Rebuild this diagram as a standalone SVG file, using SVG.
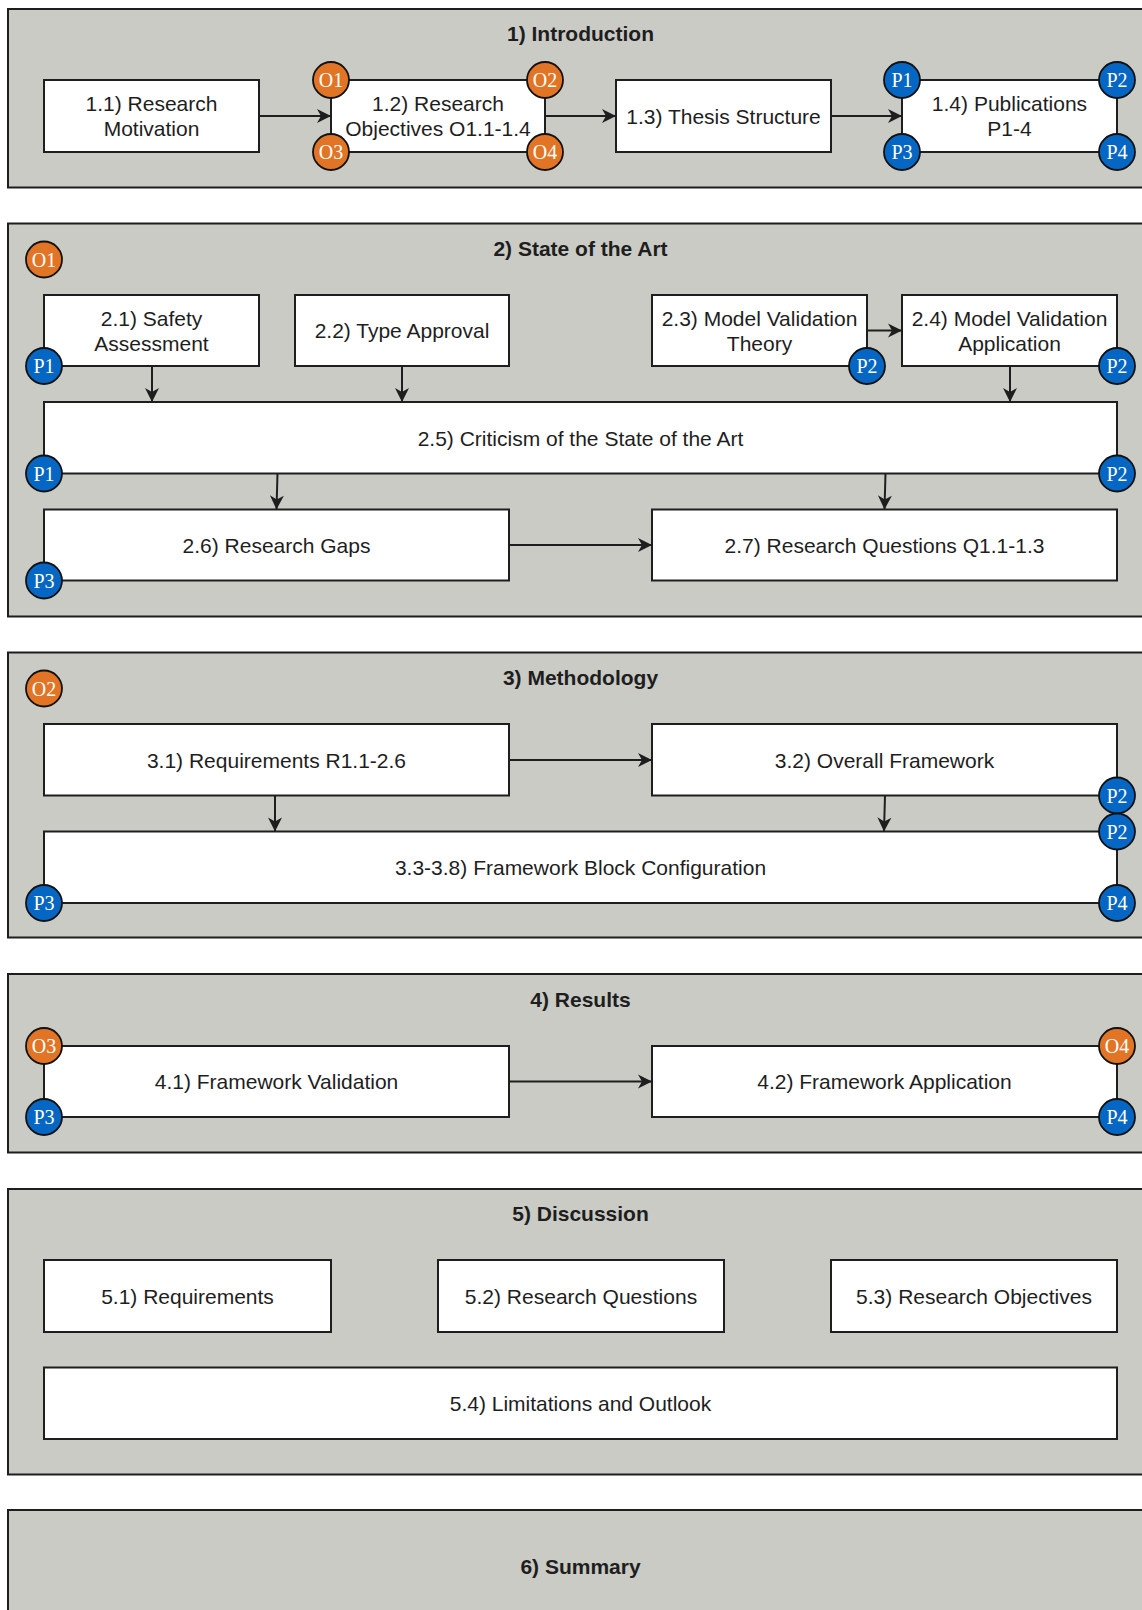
<svg xmlns="http://www.w3.org/2000/svg" width="1142" height="1610" viewBox="0 0 1142 1610">
  <defs>
    <marker id="arrow" markerUnits="userSpaceOnUse" markerWidth="16" markerHeight="16" viewBox="-15 -8 16 16" refX="0" refY="0" orient="auto">
      <path d="M0,0 L-14,-7 L-10,0 L-14,7 Z" fill="#1e1e1e"/>
    </marker>
  </defs>
  <style>
    .sec { fill: #cacbc5; stroke: #1e1e1e; stroke-width: 2; }
    .box { fill: #ffffff; stroke: #1e1e1e; stroke-width: 2; }
    .title { font-family: "Liberation Sans", Arial, sans-serif; font-weight: bold; font-size: 21px; fill: #1e1e1e; text-anchor: middle; dominant-baseline: central; }
    .lbl { font-family: "Liberation Sans", Arial, sans-serif; font-size: 21px; fill: #1e1e1e; text-anchor: middle; dominant-baseline: central; }
    .edge { fill: none; stroke: #1e1e1e; stroke-width: 2; marker-end: url(#arrow); }
    .o circle { fill: #e27425; stroke: #111; stroke-width: 1.8; }
    .p circle { fill: #0566c3; stroke: #111; stroke-width: 1.8; }
    .badge text { font-family: "Liberation Serif", "Times New Roman", serif; font-size: 20px; fill: #ffffff; text-anchor: middle; dominant-baseline: central; }
  </style>

  <!-- chapter panels -->
  <g id="chapters">
    <g id="ch1"><rect class="sec" x="8" y="9" width="1145" height="178.5"/><text class="title" x="580.5" y="33">1) Introduction</text></g>
    <g id="ch2"><rect class="sec" x="8" y="223.5" width="1145" height="393"/><text class="title" x="580.5" y="248">2) State of the Art</text></g>
    <g id="ch3"><rect class="sec" x="8" y="652.5" width="1145" height="285"/><text class="title" x="580.5" y="677">3) Methodology</text></g>
    <g id="ch4"><rect class="sec" x="8" y="974" width="1145" height="178.5"/><text class="title" x="580.5" y="999.5">4) Results</text></g>
    <g id="ch5"><rect class="sec" x="8" y="1189" width="1145" height="285.5"/><text class="title" x="580.5" y="1213">5) Discussion</text></g>
    <g id="ch6"><rect class="sec" x="8" y="1510" width="1145" height="150"/><text class="title" x="580.5" y="1566">6) Summary</text></g>
  </g>

  <!-- connectors -->
  <g id="connectors">
    <path class="edge" d="M259,116 H331"/>
    <path class="edge" d="M545,116 H616"/>
    <path class="edge" d="M831,116 H902"/>
    <path class="edge" d="M152,366 V402"/>
    <path class="edge" d="M402,366 V402"/>
    <path class="edge" d="M867,330.5 H902"/>
    <path class="edge" d="M1010,366 V402"/>
    <path class="edge" d="M277.5,473.5 L276.5,509.5"/>
    <path class="edge" d="M885.5,473.5 L884.5,509.5"/>
    <path class="edge" d="M509,545 H652"/>
    <path class="edge" d="M509,760 H652"/>
    <path class="edge" d="M275,795.5 V831.5"/>
    <path class="edge" d="M885,795.5 L884,831.5"/>
    <path class="edge" d="M509,1081.5 H652"/>
  </g>

  <!-- 1) Introduction -->
  <g id="n1_1"><rect class="box" x="44" y="80" width="215" height="72"/><text class="lbl" x="151.5" y="103.5">1.1) Research</text><text class="lbl" x="151.5" y="128.5">Motivation</text></g>
  <g id="n1_2"><rect class="box" x="331" y="80" width="214" height="72"/><text class="lbl" x="438" y="103.5">1.2) Research</text><text class="lbl" x="438" y="128.5">Objectives O1.1-1.4</text></g>
  <g id="n1_3"><rect class="box" x="616" y="80" width="215" height="72"/><text class="lbl" x="723.5" y="116">1.3) Thesis Structure</text></g>
  <g id="n1_4"><rect class="box" x="902" y="80" width="215" height="72"/><text class="lbl" x="1009.5" y="103.5">1.4) Publications</text><text class="lbl" x="1009.5" y="128.5">P1-4</text></g>

  <!-- 2) State of the Art -->
  <g id="n2_1"><rect class="box" x="44" y="295" width="215" height="71"/><text class="lbl" x="151.5" y="318">2.1) Safety</text><text class="lbl" x="151.5" y="343">Assessment</text></g>
  <g id="n2_2"><rect class="box" x="295" y="295" width="214" height="71"/><text class="lbl" x="402" y="330.5">2.2) Type Approval</text></g>
  <g id="n2_3"><rect class="box" x="652" y="295" width="215" height="71"/><text class="lbl" x="759.5" y="318">2.3) Model Validation</text><text class="lbl" x="759.5" y="343">Theory</text></g>
  <g id="n2_4"><rect class="box" x="902" y="295" width="215" height="71"/><text class="lbl" x="1009.5" y="318">2.4) Model Validation</text><text class="lbl" x="1009.5" y="343">Application</text></g>
  <g id="n2_5"><rect class="box" x="44" y="402" width="1073" height="71.5"/><text class="lbl" x="580.5" y="438">2.5) Criticism of the State of the Art</text></g>
  <g id="n2_6"><rect class="box" x="44" y="509.5" width="465" height="71"/><text class="lbl" x="276.5" y="545">2.6) Research Gaps</text></g>
  <g id="n2_7"><rect class="box" x="652" y="509.5" width="465" height="71"/><text class="lbl" x="884.5" y="545">2.7) Research Questions Q1.1-1.3</text></g>

  <!-- 3) Methodology -->
  <g id="n3_1"><rect class="box" x="44" y="724" width="465" height="71.5"/><text class="lbl" x="276.5" y="760">3.1) Requirements R1.1-2.6</text></g>
  <g id="n3_2"><rect class="box" x="652" y="724" width="465" height="71.5"/><text class="lbl" x="884.5" y="760">3.2) Overall Framework</text></g>
  <g id="n3_3"><rect class="box" x="44" y="831.5" width="1073" height="71.5"/><text class="lbl" x="580.5" y="867">3.3-3.8) Framework Block Configuration</text></g>

  <!-- 4) Results -->
  <g id="n4_1"><rect class="box" x="44" y="1046" width="465" height="71"/><text class="lbl" x="276.5" y="1081.5">4.1) Framework Validation</text></g>
  <g id="n4_2"><rect class="box" x="652" y="1046" width="465" height="71"/><text class="lbl" x="884.5" y="1081.5">4.2) Framework Application</text></g>

  <!-- 5) Discussion -->
  <g id="n5_1"><rect class="box" x="44" y="1260" width="287" height="72"/><text class="lbl" x="187.5" y="1296">5.1) Requirements</text></g>
  <g id="n5_2"><rect class="box" x="438" y="1260" width="286" height="72"/><text class="lbl" x="581" y="1296">5.2) Research Questions</text></g>
  <g id="n5_3"><rect class="box" x="831" y="1260" width="286" height="72"/><text class="lbl" x="974" y="1296">5.3) Research Objectives</text></g>
  <g id="n5_4"><rect class="box" x="44" y="1367.5" width="1073" height="71.5"/><text class="lbl" x="580.5" y="1403">5.4) Limitations and Outlook</text></g>

  <!-- objective (O) and publication (P) badges -->
  <g id="badges">
    <g class="badge o"><circle cx="331" cy="80" r="18"/><text x="331" y="80">O1</text></g>
    <g class="badge o"><circle cx="545" cy="80" r="18"/><text x="545" y="80">O2</text></g>
    <g class="badge o"><circle cx="331" cy="152" r="18"/><text x="331" y="152">O3</text></g>
    <g class="badge o"><circle cx="545" cy="152" r="18"/><text x="545" y="152">O4</text></g>
    <g class="badge p"><circle cx="902" cy="80" r="18"/><text x="902" y="80">P1</text></g>
    <g class="badge p"><circle cx="1117" cy="80" r="18"/><text x="1117" y="80">P2</text></g>
    <g class="badge p"><circle cx="902" cy="152" r="18"/><text x="902" y="152">P3</text></g>
    <g class="badge p"><circle cx="1117" cy="152" r="18"/><text x="1117" y="152">P4</text></g>

    <g class="badge o"><circle cx="44" cy="259.5" r="18"/><text x="44" y="259.5">O1</text></g>
    <g class="badge p"><circle cx="44" cy="366" r="18"/><text x="44" y="366">P1</text></g>
    <g class="badge p"><circle cx="867" cy="366" r="18"/><text x="867" y="366">P2</text></g>
    <g class="badge p"><circle cx="1117" cy="366" r="18"/><text x="1117" y="366">P2</text></g>
    <g class="badge p"><circle cx="44" cy="473.5" r="18"/><text x="44" y="473.5">P1</text></g>
    <g class="badge p"><circle cx="1117" cy="473.5" r="18"/><text x="1117" y="473.5">P2</text></g>
    <g class="badge p"><circle cx="44" cy="580.5" r="18"/><text x="44" y="580.5">P3</text></g>

    <g class="badge o"><circle cx="44" cy="688.5" r="18"/><text x="44" y="688.5">O2</text></g>
    <g class="badge p"><circle cx="1117" cy="795.5" r="18"/><text x="1117" y="795.5">P2</text></g>
    <g class="badge p"><circle cx="1117" cy="831.5" r="18"/><text x="1117" y="831.5">P2</text></g>
    <g class="badge p"><circle cx="44" cy="903" r="18"/><text x="44" y="903">P3</text></g>
    <g class="badge p"><circle cx="1117" cy="903" r="18"/><text x="1117" y="903">P4</text></g>

    <g class="badge o"><circle cx="44" cy="1046" r="18"/><text x="44" y="1046">O3</text></g>
    <g class="badge p"><circle cx="44" cy="1117" r="18"/><text x="44" y="1117">P3</text></g>
    <g class="badge o"><circle cx="1117" cy="1046" r="18"/><text x="1117" y="1046">O4</text></g>
    <g class="badge p"><circle cx="1117" cy="1117" r="18"/><text x="1117" y="1117">P4</text></g>
  </g>
</svg>
